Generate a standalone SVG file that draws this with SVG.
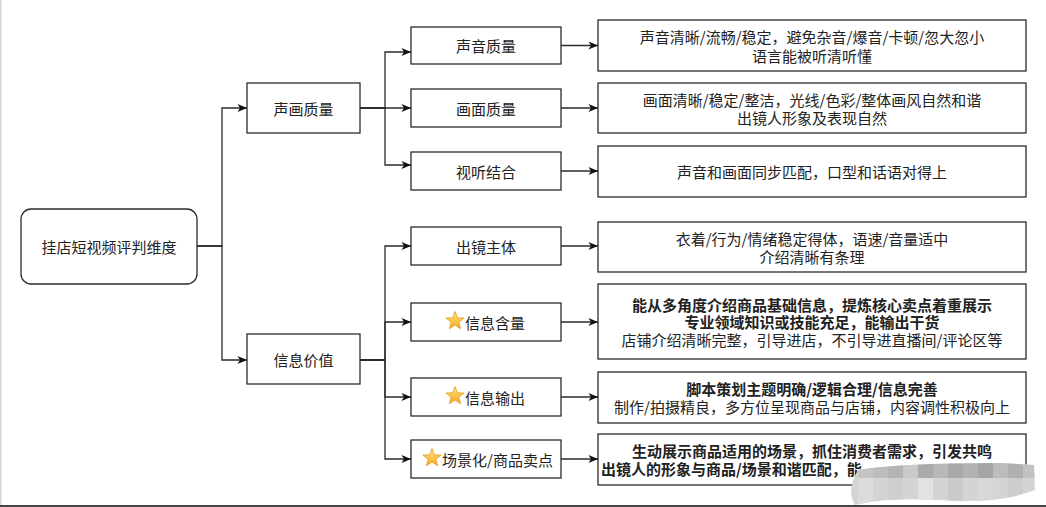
<svg xmlns="http://www.w3.org/2000/svg" width="1046" height="507" viewBox="0 0 1046 507">
<style>
.box{fill:#fff;stroke:#2b2b2b;stroke-width:1.3}
.c{fill:none;stroke:#2b2b2b;stroke-width:1.3}
.t{font-family:"Noto Sans CJK SC","Noto Sans",sans-serif;font-size:15px;fill:#222;dominant-baseline:central}
.m{text-anchor:middle}
.b{font-weight:bold}
</style>
<defs>
<marker id="arr" viewBox="0 0 10 10" refX="10" refY="5" markerWidth="10" markerHeight="10" markerUnits="userSpaceOnUse" orient="auto">
<path d="M0.5,1 L10,5 L0.5,9 L3,5 Z" fill="#111"/>
</marker>
<linearGradient id="sg" x1="0" y1="0" x2="0" y2="1">
<stop offset="0" stop-color="#ffe879"/>
<stop offset="1" stop-color="#f6a623"/>
</linearGradient>
<polygon id="star" points="0,-9.5 2.35,-3.24 9.04,-2.94 3.8,1.24 5.58,7.69 0,4 -5.58,7.69 -3.8,1.24 -9.04,-2.94 -2.35,-3.24" fill="url(#sg)" stroke="#e39a1b" stroke-width="0.8" stroke-linejoin="round"/>
<clipPath id="blobclip">
<path d="M858,470 Q900,463 1000,463 L1034,465 L1035,490 Q1000,504 940,500 Q885,497 855,505 Q846,490 858,470 Z"/>
</clipPath>
</defs>
<rect x="0" y="0" width="1046" height="507" fill="#fff"/>
<rect x="0" y="0" width="1.5" height="507" fill="#d6d6d6"/>
<rect x="0" y="505" width="1046" height="2" fill="#444"/>

<g id="connectors">
<path class="c" d="M197,246 H222 V108 H247" marker-end="url(#arr)"/>
<path class="c" d="M197,246 H222 V360 H247" marker-end="url(#arr)"/>
<path class="c" d="M360,108 H385 V52 H411" marker-end="url(#arr)"/>
<path class="c" d="M360,108 H411" marker-end="url(#arr)"/>
<path class="c" d="M360,108 H385 V165 H411" marker-end="url(#arr)"/>
<path class="c" d="M360,360 H385 V246 H411" marker-end="url(#arr)"/>
<path class="c" d="M360,360 H385 V322 H411" marker-end="url(#arr)"/>
<path class="c" d="M360,360 H385 V397 H411" marker-end="url(#arr)"/>
<path class="c" d="M360,360 H385 V459 H411" marker-end="url(#arr)"/>
<path class="c" d="M561,45.5 H598" marker-end="url(#arr)"/>
<path class="c" d="M561,108 H598" marker-end="url(#arr)"/>
<path class="c" d="M561,171 H598" marker-end="url(#arr)"/>
<path class="c" d="M561,246 H598" marker-end="url(#arr)"/>
<path class="c" d="M561,322 H598" marker-end="url(#arr)"/>
<path class="c" d="M561,397 H598" marker-end="url(#arr)"/>
<path class="c" d="M561,459 H598" marker-end="url(#arr)"/>
</g>

<g id="root">
<rect class="box" x="21" y="209" width="176" height="75" rx="10"/>
<text class="t m" x="109" y="246.5">挂店短视频评判维度</text>
</g>

<g id="n-shenghua">
<rect class="box" x="247" y="83" width="113" height="50"/>
<text class="t m" x="303.5" y="108">声画质量</text>
</g>
<g id="n-xinxi">
<rect class="box" x="247" y="334" width="113" height="50"/>
<text class="t m" x="303.5" y="359">信息价值</text>
</g>

<g id="n-shengyin">
<rect class="box" x="411" y="27" width="150" height="37"/>
<text class="t m" x="486" y="45.5">声音质量</text>
</g>
<g id="n-huamian">
<rect class="box" x="411" y="89" width="150" height="38"/>
<text class="t m" x="486" y="108">画面质量</text>
</g>
<g id="n-shiting">
<rect class="box" x="411" y="152" width="150" height="38"/>
<text class="t m" x="486" y="171">视听结合</text>
</g>
<g id="n-chujing">
<rect class="box" x="411" y="227" width="150" height="38"/>
<text class="t m" x="486" y="246">出镜主体</text>
</g>
<g id="n-hanliang">
<rect class="box" x="411" y="303" width="150" height="38"/>
<use href="#star" x="455" y="321"/>
<text class="t" x="465" y="322">信息含量</text>
</g>
<g id="n-shuchu">
<rect class="box" x="411" y="378" width="150" height="38"/>
<use href="#star" x="455" y="396"/>
<text class="t" x="465" y="397">信息输出</text>
</g>
<g id="n-changjing">
<rect class="box" x="411" y="440" width="150" height="38"/>
<use href="#star" x="432" y="458"/>
<text class="t" x="442" y="459">场景化/商品卖点</text>
</g>

<g id="d-shengyin">
<rect class="box" x="598" y="20" width="428" height="51"/>
<text class="t m" x="812" y="36.5">声音清晰/流畅/稳定，避免杂音/爆音/卡顿/忽大忽小</text>
<text class="t m" x="812" y="55">语言能被听清听懂</text>
</g>
<g id="d-huamian">
<rect class="box" x="598" y="83" width="428" height="50"/>
<text class="t m" x="812" y="99">画面清晰/稳定/整洁，光线/色彩/整体画风自然和谐</text>
<text class="t m" x="812" y="117">出镜人形象及表现自然</text>
</g>
<g id="d-shiting">
<rect class="box" x="598" y="146" width="428" height="51"/>
<text class="t m" x="812" y="171">声音和画面同步匹配，口型和话语对得上</text>
</g>
<g id="d-chujing">
<rect class="box" x="598" y="222" width="428" height="50"/>
<text class="t m" x="812" y="238">衣着/行为/情绪稳定得体，语速/音量适中</text>
<text class="t m" x="812" y="256">介绍清晰有条理</text>
</g>
<g id="d-hanliang">
<rect class="box" x="598" y="284" width="428" height="75"/>
<text class="t m b" x="812" y="304">能从多角度介绍商品基础信息，提炼核心卖点着重展示</text>
<text class="t m b" x="812" y="321.5">专业领域知识或技能充足，能输出干货</text>
<text class="t m" x="812" y="339">店铺介绍清晰完整，引导进店，不引导进直播间/评论区等</text>
</g>
<g id="d-shuchu">
<rect class="box" x="598" y="372" width="428" height="51"/>
<text class="t m b" x="812" y="388.5">脚本策划主题明确/逻辑合理/信息完善</text>
<text class="t m" x="812" y="406.5">制作/拍摄精良，多方位呈现商品与店铺，内容调性积极向上</text>
</g>
<g id="d-changjing">
<rect class="box" x="598" y="434" width="428" height="51"/>
<text class="t m b" x="812" y="450.5">生动展示商品适用的场景，抓住消费者需求，引发共鸣</text>
<text class="t b" x="601" y="468.5">出镜人的形象与商品/场景和谐匹配，能</text>
</g>

<g id="watermark" clip-path="url(#blobclip)">
<rect x="845" y="460" width="200" height="50" fill="#d4d4d4"/>
<rect x="858" y="462" width="15" height="16" fill="#c4c4c4"/>
<rect x="873" y="462" width="15" height="16" fill="#bdbdbd"/>
<rect x="888" y="462" width="15" height="16" fill="#b4b4b4"/>
<rect x="903" y="462" width="15" height="16" fill="#c9c9c9"/>
<rect x="918" y="462" width="15" height="16" fill="#ababab"/>
<rect x="933" y="462" width="15" height="16" fill="#b8b8b8"/>
<rect x="948" y="462" width="15" height="16" fill="#a9a9a9"/>
<rect x="963" y="462" width="15" height="16" fill="#b2b2b2"/>
<rect x="978" y="462" width="15" height="16" fill="#a6a6a6"/>
<rect x="993" y="462" width="15" height="16" fill="#bcbcbc"/>
<rect x="1008" y="462" width="15" height="16" fill="#b0b0b0"/>
<rect x="1023" y="462" width="15" height="16" fill="#c2c2c2"/>
<rect x="858" y="478" width="15" height="30" fill="#dcdcdc"/>
<rect x="888" y="478" width="15" height="30" fill="#cfcfcf"/>
<rect x="918" y="478" width="15" height="30" fill="#e2e2e2"/>
<rect x="948" y="478" width="15" height="30" fill="#cbcbcb"/>
<rect x="978" y="478" width="15" height="30" fill="#d8d8d8"/>
<rect x="1008" y="478" width="15" height="30" fill="#cdcdcd"/>
</g>
</svg>
